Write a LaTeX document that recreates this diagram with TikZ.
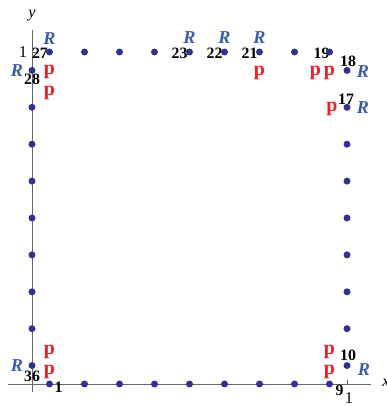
\documentclass[tikz,border=0pt]{standalone}
\usepackage{fontspec}
\setmainfont{Liberation Serif}
\usetikzlibrary{positioning}
\definecolor{dotblue}{RGB}{50,50,140}
\definecolor{rblue}{RGB}{60,90,170}
\definecolor{pred}{RGB}{235,30,40}

\begin{document}
\begin{tikzpicture}[x=9.45cm, y=9.96cm,
  dot/.style={circle, fill=dotblue, inner sep=0pt, minimum size=0.21cm},
  num/.style={font=\fontsize{13.5}{13.5}\selectfont\bfseries, inner sep=0pt},
  rlab/.style={font=\fontsize{15.5}{15.5}\selectfont\bfseries\itshape,
               text=rblue, inner sep=0pt},
  plab/.style={font=\fontsize{17}{17}\selectfont\bfseries, text=pred, inner sep=0pt},
  axis/.style={gray!80!black, line width=0.6pt},
  ticklab/.style={font=\fontsize{14}{14}\selectfont, inner sep=0pt},
  ]
  \useasboundingbox (-0.10159,-0.06627) rectangle (1.12698,1.15663);

  % axes
  \coordinate (xstart) at (-0.076,0);
  \coordinate (xend) at (1.076,0);
  \coordinate (ystart) at (0,-0.024);
  \coordinate (yend) at (0,1.066);
  \coordinate (xtick) at (1,0);
  \coordinate (ytick) at (0,1);
  \draw[axis] (xstart) -- (xend);
  \draw[axis] (ystart) -- (yend);
  \draw[axis] (xtick) -- ++(0,0.012);
  \draw[axis] (ytick) -- ++(0.012,0);
  \node[ticklab, font=\fontsize{14}{14}\selectfont\itshape] (xlab) at (1.1238,0.003) {x};
  \node[ticklab, font=\fontsize{14}{14}\selectfont\itshape] (ylab) at (0,1.1114) {y};
  \node[ticklab] (xone) at (1.0063,-0.0422) {1};
  \node[ticklab] (yone) at (-0.0286,1) {1};

  % mesh points round the square
  \foreach \k in {1,...,9} {
    \pgfmathtruncatemacro{\kb}{\k}
    \pgfmathtruncatemacro{\kr}{9+\k}
    \pgfmathtruncatemacro{\kt}{18+\k}
    \pgfmathtruncatemacro{\kl}{27+\k}
    \coordinate (v\kb) at ({(2*\k-1)/18},0);
    \coordinate (v\kr) at (1,{(2*\k-1)/18});
    \coordinate (v\kt) at ({(19-2*\k)/18},1);
    \coordinate (v\kl) at (0,{(19-2*\k)/18});
  }

  % labels
  \node[num] (n1) at ([shift={(0.27cm,-0.09cm)}]v1) {1};
  \node[plab] (pa1) at ([shift={(0cm,0.36cm)}]v1) {p};
  \node[plab] (pb1) at ([shift={(0cm,0.96cm)}]v1) {p};
  \node[num] (n9) at ([shift={(0.3cm,-0.18cm)}]v9) {9};
  \node[plab] (pa9) at ([shift={(0cm,0.36cm)}]v9) {p};
  \node[plab] (pb9) at ([shift={(0cm,0.96cm)}]v9) {p};
  \node[num] (n10) at ([shift={(0.03cm,0.3cm)}]v10) {10};
  \node[rlab] (r10) at ([shift={(0.51cm,-0.12cm)}]v10) {R};
  \node[num] (n17) at ([shift={(-0.03cm,0.24cm)}]v17) {17};
  \node[rlab] (r17) at ([shift={(0.48cm,0cm)}]v17) {R};
  \node[plab] (pa17) at ([shift={(-0.45cm,-0.06cm)}]v17) {p};
  \node[num] (n18) at ([shift={(0.03cm,0.27cm)}]v18) {18};
  \node[rlab] (r18) at ([shift={(0.48cm,-0.03cm)}]v18) {R};
  \node[num] (n19) at ([shift={(-0.24cm,-0.03cm)}]v19) {19};
  \node[plab] (pa19) at ([shift={(-0.42cm,-0.63cm)}]v19) {p};
  \node[plab] (pb19) at ([shift={(0cm,-0.63cm)}]v19) {p};
  \foreach \n in {21,22,23} {
    \node[num] (n\n) at ([shift={(-0.3cm,-0.03cm)}]v\n) {\n};
    \node[rlab] (r\n) at ([shift={(0cm,0.42cm)}]v\n) {R};
  }
  \node[plab] (pa21) at ([shift={(0cm,-0.63cm)}]v21) {p};
  \node[num] (n27) at ([shift={(-0.285cm,-0.03cm)}]v27) {27};
  \node[rlab] (r27) at ([shift={(0cm,0.39cm)}]v27) {R};
  \node[plab] (pa27) at ([shift={(0cm,-0.6cm)}]v27) {p};
  \node[plab] (pb27) at ([shift={(0cm,-1.23cm)}]v27) {p};
  \node[num] (n28) at ([shift={(0cm,-0.27cm)}]v28) {28};
  \node[rlab] (r28) at ([shift={(-0.45cm,0cm)}]v28) {R};
  \node[num] (n36) at ([shift={(0cm,-0.33cm)}]v36) {36};
  \node[rlab] (r36) at ([shift={(-0.45cm,0cm)}]v36) {R};

  % dots on top
  \foreach \n in {1,...,36}
    \node[dot] (dot\n) at (v\n) {};
\end{tikzpicture}
\end{document}
